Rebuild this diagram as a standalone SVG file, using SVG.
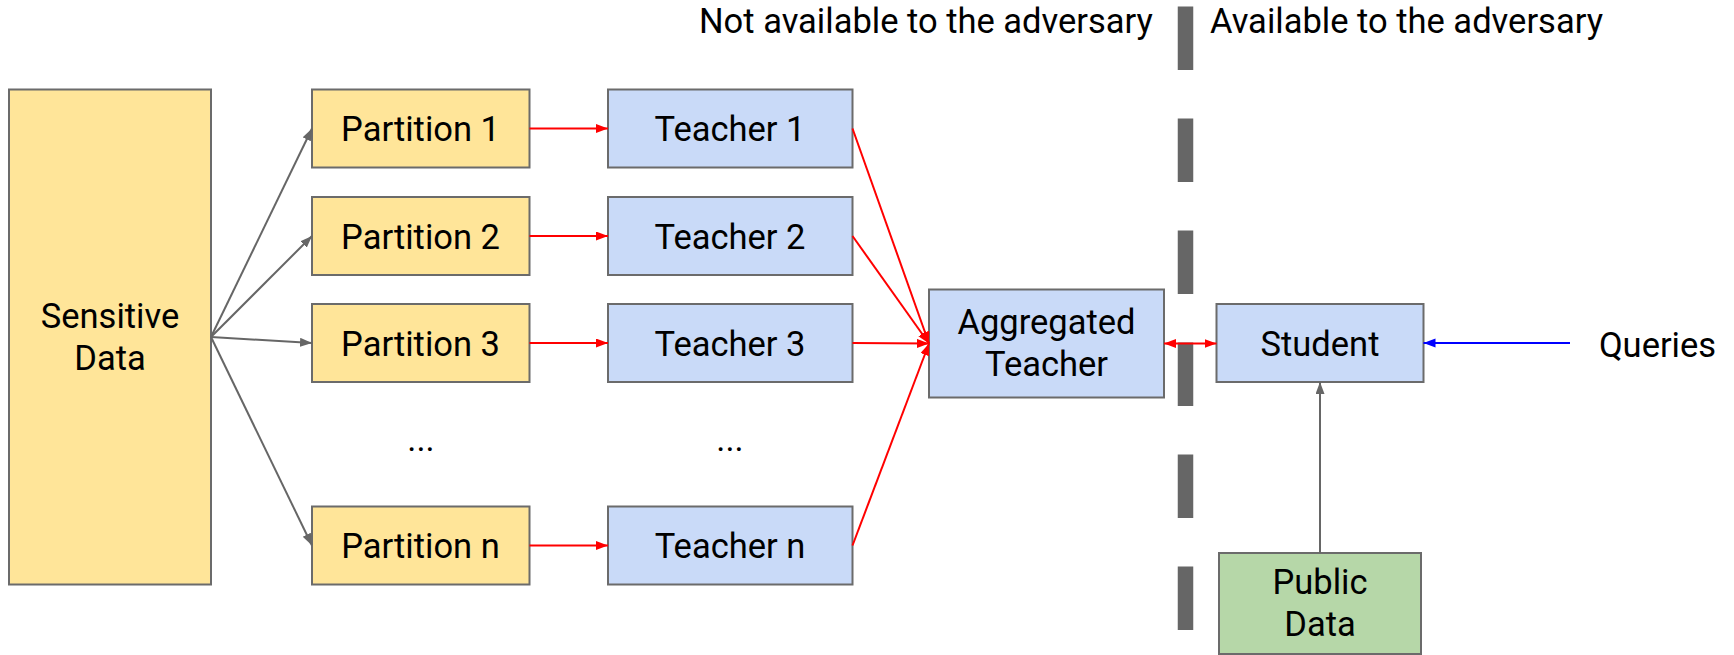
<svg xmlns="http://www.w3.org/2000/svg" width="1734" height="655" viewBox="0 0 1734 655">
  <style>
    text { font-family: Roboto, "Liberation Sans", sans-serif; font-size: 34.5px; fill: #000000; text-anchor: middle; }
    .hdr { text-anchor: start; }
    .box { stroke: #6b6b6b; stroke-width: 2; }
    .yel { fill: #ffe599; }
    .blu { fill: #c9daf8; }
    .grn { fill: #b6d7a8; }
    .g { stroke: #666666; stroke-width: 2; fill: none; marker-end: url(#ag); }
    .r { stroke: #ff0000; stroke-width: 2; fill: none; marker-end: url(#ar); }
    .b { stroke: #0000ff; stroke-width: 2; fill: none; marker-end: url(#ab); }
  </style>
  <defs>
    <marker id="ag" markerUnits="userSpaceOnUse" markerWidth="13" markerHeight="10" refX="12" refY="4.5" orient="auto">
      <path d="M0,0 L12,4.5 L0,9 z" fill="#666666"/>
    </marker>
    <marker id="ar" markerUnits="userSpaceOnUse" markerWidth="13" markerHeight="10" refX="12" refY="4.5" orient="auto-start-reverse">
      <path d="M0,0 L12,4.5 L0,9 z" fill="#ff0000"/>
    </marker>
    <marker id="ab" markerUnits="userSpaceOnUse" markerWidth="13" markerHeight="10" refX="12" refY="4.5" orient="auto">
      <path d="M0,0 L12,4.5 L0,9 z" fill="#0000ff"/>
    </marker>
  </defs>
  <rect width="1734" height="655" fill="#ffffff"/>

  <g id="headers">
    <text class="hdr" x="699" y="32.5">Not available to the adversary</text>
    <text class="hdr" x="1210" y="32.5">Available to the adversary</text>
  </g>

  <g id="divider">
    <line x1="1185.5" y1="6.5" x2="1185.5" y2="630" stroke="#666666" stroke-width="15.5" stroke-dasharray="63.5 48.5"/>
  </g>

  <g id="sensitive-data">
    <rect class="box yel" x="9" y="89.5" width="202" height="495"/>
    <text x="110" y="328">Sensitive</text>
    <text x="110" y="370">Data</text>
  </g>

  <g id="partition-1">
    <rect class="box yel" x="312" y="89.5" width="217.5" height="78"/>
    <text x="420.5" y="141">Partition 1</text>
  </g>
  <g id="partition-2">
    <rect class="box yel" x="312" y="197" width="217.5" height="78"/>
    <text x="420.5" y="248.5">Partition 2</text>
  </g>
  <g id="partition-3">
    <rect class="box yel" x="312" y="304" width="217.5" height="78"/>
    <text x="420.5" y="355.5">Partition 3</text>
  </g>
  <g id="partition-dots">
    <text x="421" y="450.5">...</text>
  </g>
  <g id="partition-n">
    <rect class="box yel" x="312" y="506.5" width="217.5" height="78"/>
    <text x="420.5" y="558">Partition n</text>
  </g>

  <g id="teacher-1">
    <rect class="box blu" x="608" y="89.5" width="244.5" height="78"/>
    <text x="730" y="141">Teacher 1</text>
  </g>
  <g id="teacher-2">
    <rect class="box blu" x="608" y="197" width="244.5" height="78"/>
    <text x="730" y="248.5">Teacher 2</text>
  </g>
  <g id="teacher-3">
    <rect class="box blu" x="608" y="304" width="244.5" height="78"/>
    <text x="730" y="355.5">Teacher 3</text>
  </g>
  <g id="teacher-dots">
    <text x="730" y="450.5">...</text>
  </g>
  <g id="teacher-n">
    <rect class="box blu" x="608" y="506.5" width="244.5" height="78"/>
    <text x="730" y="558">Teacher n</text>
  </g>

  <g id="aggregated-teacher">
    <rect class="box blu" x="929" y="289.5" width="235" height="108"/>
    <text x="1046.5" y="333.5">Aggregated</text>
    <text x="1046.5" y="376">Teacher</text>
  </g>

  <g id="student">
    <rect class="box blu" x="1216.5" y="304" width="207" height="78"/>
    <text x="1320" y="355.5">Student</text>
  </g>

  <g id="public-data">
    <rect class="box grn" x="1219" y="553" width="202" height="101"/>
    <text x="1320" y="594">Public</text>
    <text x="1320" y="636">Data</text>
  </g>

  <g id="queries">
    <text x="1657.5" y="356.5">Queries</text>
  </g>

  <g id="connectors">
    <line class="g" x1="211" y1="337" x2="312" y2="128.5"/>
    <line class="g" x1="211" y1="337" x2="312" y2="236"/>
    <line class="g" x1="211" y1="337" x2="312" y2="343"/>
    <line class="g" x1="211" y1="337" x2="312" y2="545.5"/>

    <line class="r" x1="529.5" y1="128.5" x2="608" y2="128.5"/>
    <line class="r" x1="529.5" y1="236" x2="608" y2="236"/>
    <line class="r" x1="529.5" y1="343" x2="608" y2="343"/>
    <line class="r" x1="529.5" y1="545.5" x2="608" y2="545.5"/>

    <line class="r" x1="852.5" y1="128.5" x2="929" y2="343.5"/>
    <line class="r" x1="852.5" y1="236" x2="929" y2="343.5"/>
    <line class="r" x1="852.5" y1="343" x2="929" y2="343.5"/>
    <line class="r" x1="852.5" y1="545.5" x2="929" y2="343.5"/>

    <line class="r" x1="1164" y1="343.5" x2="1216.5" y2="343.5" marker-start="url(#ar)"/>

    <line class="b" x1="1570" y1="343" x2="1423.5" y2="343"/>

    <line class="g" x1="1320" y1="553" x2="1320" y2="382"/>
  </g>
</svg>
